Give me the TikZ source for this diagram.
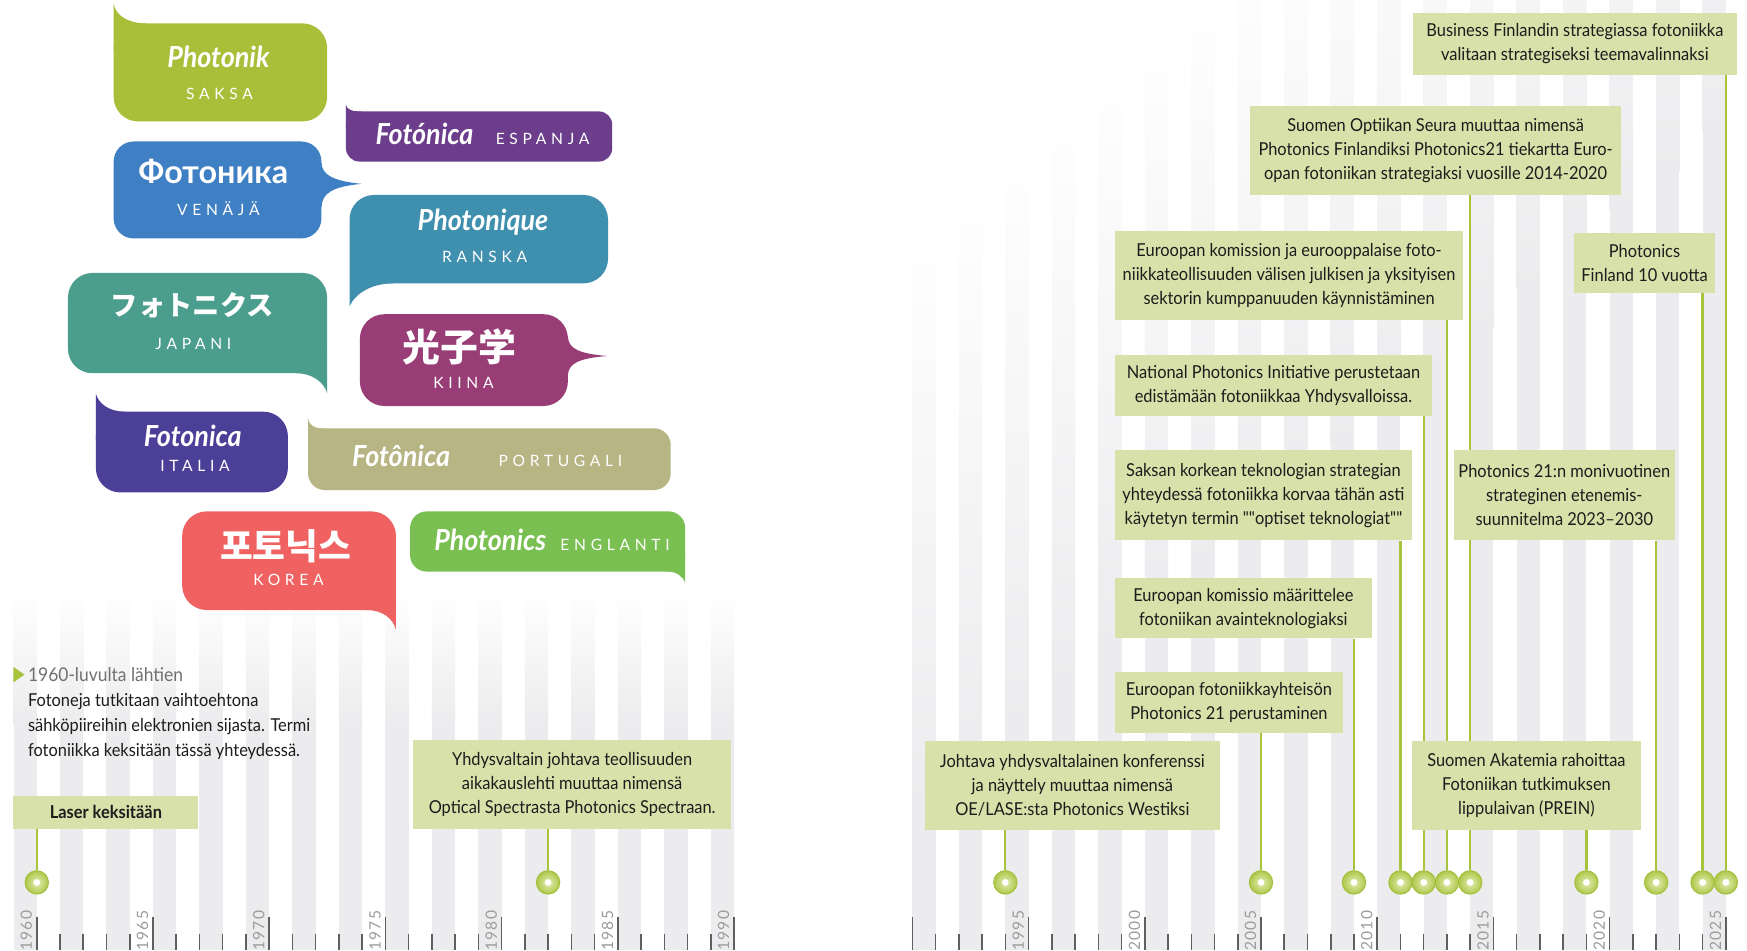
\documentclass[tikz,border=0pt]{standalone}
\usepackage{fontspec}
\setmainfont{Lato}[FakeStretch=0.92]
\newfontfamily\qfont{Lato}[FakeStretch=0.92, Ligatures=TeXOff]
\newfontfamily\titlefont{Lato}[FakeStretch=0.93]
\newfontfamily\capsfont{Lato}[LetterSpace=30]
\newfontfamily\yearfont{Lato}[LetterSpace=8]
\newfontfamily\cyrfont{Lato}
\newfontfamily\jpfont{Noto Sans CJK JP}
\newfontfamily\scfont{Noto Sans CJK SC}
\newfontfamily\krfont{Noto Sans CJK KR}
\definecolor{boxgreen}{HTML}{D8E1AA}
\definecolor{conngreen}{HTML}{A8C43C}
\definecolor{txt}{HTML}{1C1C1C}
\definecolor{stripe}{HTML}{ECECEE}
\definecolor{tickc}{HTML}{5F5F5F}
\definecolor{yearc}{HTML}{9C9C9C}
\definecolor{mkin}{HTML}{E6EEB8}
\definecolor{mkout}{HTML}{AEC749}
\definecolor{mkline}{HTML}{A3BF3E}
\definecolor{introgray}{HTML}{707070}
\definecolor{cSaksa}{HTML}{A9BF3A}
\definecolor{cEspanja}{HTML}{6B3D8B}
\definecolor{cVenaja}{HTML}{3F7FC3}
\definecolor{cRanska}{HTML}{3F8FAE}
\definecolor{cJapani}{HTML}{4B9E8D}
\definecolor{cKiina}{HTML}{983D75}
\definecolor{cItalia}{HTML}{4C3F98}
\definecolor{cPortugali}{HTML}{B8B584}
\definecolor{cKorea}{HTML}{F06161}
\definecolor{cEnglanti}{HTML}{79BF51}
\pgfdeclarelayer{bg}
\pgfdeclarelayer{conn}
\pgfsetlayers{bg,conn,main}
\def\ry#1{1549-(2025-#1)*20.86}
\def\ly#1{33+(#1-1960)*20.86}
\begin{document}
\begin{tikzpicture}[x=1pt,y=-1pt,
  evbox/.style={fill=boxgreen, text=txt, align=center, inner sep=2pt,
    font=\fontsize{16}{21.5}\selectfont},
  marker/.style={circle, minimum size=21pt, inner sep=0pt, draw=mkline, line width=0.9pt,
    inner color=mkin, outer color=mkout,
    path picture={\fill[white] (path picture bounding box.center) circle (3pt);}},
  conn/.style={draw=conngreen, line width=2pt},
  tickline/.style={draw=tickc, line width=1.4pt},
  yearlbl/.style={text=yearc, inner sep=0pt, font=\yearfont\fontsize{14}{15}\selectfont},
  ttl/.style={text=white, inner sep=0pt, anchor=base, font=\titlefont\fontsize{26}{28}\selectfont\bfseries\itshape},
  sub/.style={text=white, inner sep=0pt, anchor=base, font=\capsfont\fontsize{14}{16}\selectfont},
  cjk/.style={text=white, inner sep=0pt, anchor=center},
]
\useasboundingbox (0,0) rectangle (1568,853);
\begin{pgfonlayer}{bg}
\clip (0,0) rectangle (1568,853);
\fill[white] (0,0) rectangle (1568,853);
% left stripes
\foreach \yr in {1959,1961,...,1989}{
  \pgfmathsetmacro\xa{\ly{\yr}}
  \pgfmathsetmacro\xb{\xa+20.86}
  \shade[top color=white, bottom color=stripe] (\xa,530) rectangle (\xb,650);
  \fill[stripe] (\xa,649.5) rectangle (\xb,853);
}
% right stripes
\foreach \yr in {1990,1992,...,2024}{
  \pgfmathsetmacro\xa{\ry{\yr}}
  \pgfmathsetmacro\xb{\xa+20.86}
  \pgfmathsetmacro\fr{(\xa-819)/730}
  \pgfmathsetmacro\yf{720-620*\fr}
  \pgfmathsetmacro\yt{\yf-520}
  \shade[top color=white, bottom color=stripe] (\xa,\yt) rectangle (\xb,\yf);
  \fill[stripe] (\xa,\yf-0.5) rectangle (\xb,853);
}
% ticks left
\foreach \yr in {1960,...,1990}{
  \pgfmathsetmacro\xa{\ly{\yr}}
  \draw[tickline] (\xa,838) -- (\xa,853);
}
\foreach \yr in {1960,1965,...,1990}{
  \pgfmathsetmacro\xa{\ly{\yr}}
  \draw[tickline] (\xa,823) -- (\xa,853);
  \node[yearlbl, rotate=90, anchor=south west] (yl\yr) at (\xa-4,853.5) {\yr};
}
% ticks right
\foreach \yr in {1990,...,2025}{
  \pgfmathsetmacro\xa{\ry{\yr}}
  \draw[tickline] (\xa,838) -- (\xa,853);
}
\draw[tickline] ({\ry{1990}},823) -- ({\ry{1990}},853);
\foreach \yr in {1995,2000,...,2025}{
  \pgfmathsetmacro\xa{\ry{\yr}}
  \draw[tickline] (\xa,823) -- (\xa,853);
  \node[yearlbl, rotate=90, anchor=south west] (yr\yr) at (\xa-4,853.5) {\yr};
}
\end{pgfonlayer}

% ---------- speech bubbles (body + tail) ----------
\fill[cSaksa, rounded corners=22] (102,21) rectangle (293.6,109);
\fill[cSaksa] (102,3.5) -- (102,45) -- (131,45) -- (131,21) .. controls (115,21) and (104,14) .. (102,3.5) -- cycle;

\fill[cEspanja, rounded corners=12] (310.5,100) rectangle (549.5,145);
\fill[cEspanja] (310.5,94) -- (310.5,115) -- (324,115) -- (324,100) -- (322,100) .. controls (316,100) and (311,98) .. (310.5,94) -- cycle;

\fill[cVenaja, rounded corners=18] (102,127) rectangle (288.5,214);
\fill[cVenaja] (275,146) -- (288.5,146) .. controls (289,157) and (299,162.5) .. (324.5,165) .. controls (299,167.5) and (289,173) .. (288.5,186) -- (275,186) -- cycle;

\fill[cRanska, rounded corners=22] (313.7,175) rectangle (545.7,254.3);
\fill[cRanska] (313.7,275) -- (313.7,235) -- (353,235) -- (353,254.3) .. controls (334,254.3) and (319,263) .. (313.7,275) -- cycle;

\fill[cJapani, rounded corners=22] (61,245) rectangle (293.6,335);
\fill[cJapani] (293.6,353) -- (293.6,315) -- (266,315) -- (266,335) .. controls (280,335) and (291,343) .. (293.6,353) -- cycle;

\fill[cKiina, rounded corners=22] (323,282) rectangle (509.7,364.4);
\fill[cKiina] (500,302) -- (509.7,302) .. controls (510,313) and (520,317.5) .. (545,319.5) .. controls (520,321.5) and (510,326) .. (509.7,337) -- (500,337) -- cycle;

\fill[cItalia, rounded corners=22] (86,369.5) rectangle (258.4,442);
\fill[cItalia] (86,353) -- (86,395) -- (112,395) -- (112,369.5) .. controls (98,369.5) and (88,362) .. (86,353) -- cycle;

\fill[cPortugali, rounded corners=15] (276.5,384.4) rectangle (602,439.8);
\fill[cPortugali] (276.5,375.5) -- (276.5,402) -- (292,402) -- (292,384.4) -- (288,384.4) .. controls (282,384.4) and (277,381) .. (276.5,375.5) -- cycle;

\fill[cKorea, rounded corners=22] (163.5,459) rectangle (355.4,547.5);
\fill[cKorea] (355.4,565.4) -- (355.4,525) -- (329,525) -- (329,547.5) .. controls (343,547.5) and (353,555) .. (355.4,565.4) -- cycle;

\fill[cEnglanti, rounded corners=15] (368,459) rectangle (615,513);
\fill[cEnglanti] (615,523.5) -- (615,495) -- (599,495) -- (599,513) .. controls (607,513) and (613,517) .. (615,523.5) -- cycle;

\node[ttl] (tSaksa) at (196,61) {Photonik};
\node[sub] (sSaksa) at (197,89) {SAKSA};
\node[ttl] (tEspanja) at (381,129.3) {Fotónica};
\node[sub] (sEspanja) at (487,129.3) {ESPANJA};
\node[text=white, inner sep=0pt, anchor=base, font=\cyrfont\fontsize{29}{30}\selectfont\bfseries] (tVenaja) at (191.5,164.5) {Фотоника};
\node[sub] (sVenaja) at (196,193) {VENÄJÄ};
\node[ttl] (tRanska) at (433.5,206.5) {Photonique};
\node[sub] (sRanska) at (435,235.5) {RANSKA};
\node[cjk, font=\jpfont\fontsize{24.5}{26}\selectfont\bfseries] (tJapani) at (172.6,274) {フォトニクス};
\node[sub] (sJapani) at (173.5,314) {JAPANI};
\node[cjk, font=\scfont\fontsize{34}{36}\selectfont\bfseries] (tKiina) at (412.7,311) {光子学};
\node[sub] (sKiina) at (416,348.5) {KIINA};
\node[ttl] (tItalia) at (173,401) {Fotonica};
\node[sub] (sItalia) at (175,423) {ITALIA};
\node[ttl] (tPortugali) at (360,419) {Fotônica};
\node[sub] (sPortugali) at (503,418.3) {PORTUGALI};
\node[cjk, font=\krfont\fontsize{32}{34}\selectfont\bfseries] (tKorea) at (256.4,490.5) {포토닉스};
\node[sub] (sKorea) at (259,525.7) {KOREA};
\node[ttl] (tEnglanti) at (440,493.7) {Photonics};
\node[sub] (sEnglanti) at (552,493.7) {ENGLANTI};

% ---------- intro text ----------
\fill[conngreen] (12,598.5) -- (22,605.5) -- (12,612.5) -- cycle;
\node[anchor=west, inner sep=0pt, text=introgray, font=\fontsize{17}{18}\selectfont] (since) at (25,605.5) {1960-luvulta lähtien};
\node[anchor=north west, align=left, inner sep=0pt, text=txt, font=\fontsize{16}{22.5}\selectfont] (intro) at (25,622) {Fotoneja tutkitaan vaihtoehtona\\sähköpiireihin elektronien sijasta. Termi\\fotoniikka keksitään tässä yhteydessä.};

% ---------- event boxes ----------
\node[evbox, minimum width=166, minimum height=30, font=\fontsize{16}{21.5}\selectfont\bfseries] (l1) at (95,729) {Laser keksitään};
\node[evbox, minimum width=285, minimum height=80] (l2) at (513.5,704) {Yhdysvaltain johtava teollisuuden\\aikakauslehti muuttaa nimensä\\Optical Spectrasta Photonics Spectraan.};

\node[evbox, minimum width=291, minimum height=55] (b1) at (1413.5,39.5) {Business Finlandin strategiassa fotoniikka\\valitaan strategiseksi teemavalinnaksi};
\node[evbox, minimum width=333, minimum height=80] (b2) at (1288.5,135) {Suomen Optiikan Seura muuttaa nimensä\\Photonics Finlandiksi Photonics21 tiekartta Euro-\\opan fotoniikan strategiaksi vuosille 2014-2020};
\node[evbox, minimum width=312, minimum height=80] (b3) at (1157,247) {Euroopan komission ja eurooppalaise foto-\\niikkateollisuuden välisen julkisen ja yksityisen\\sektorin kumppanuuden käynnistäminen};
\node[evbox, minimum width=126, minimum height=54] (b4) at (1476,236) {Photonics\\Finland 10 vuotta};
\node[evbox, minimum width=284, minimum height=54] (b5) at (1143,346) {National Photonics Initiative perustetaan\\edistämään fotoniikkaa Yhdysvalloissa.};
\node[evbox, minimum width=266, minimum height=81] (b6) at (1134,444.5) {Saksan korkean teknologian strategian\\yhteydessä fotoniikka korvaa tähän asti\\käytetyn termin {\qfont""}optiset teknologiat{\qfont""}};
\node[evbox, minimum width=198, minimum height=81] (b7) at (1404,444.5) {Photonics 21:n monivuotinen\\strateginen etenemis-\\suunnitelma 2023–2030};
\node[evbox, minimum width=230, minimum height=54] (b8) at (1116,546) {Euroopan komissio määrittelee\\fotoniikan avainteknologiaksi};
\node[evbox, minimum width=204, minimum height=55] (b9) at (1103,630.5) {Euroopan fotoniikkayhteisön\\Photonics 21 perustaminen};
\node[evbox, minimum width=265, minimum height=80] (b10) at (962.5,705) {Johtava yhdysvaltalainen konferenssi\\ja näyttely muuttaa nimensä\\OE/LASE:sta Photonics Westiksi};
\node[evbox, minimum width=206, minimum height=80] (b11) at (1370,705) {Suomen Akatemia rahoittaa\\Fotoniikan tutkimuksen\\lippulaivan (PREIN)};

% ---------- markers ----------
\node[marker] (m1960) at ({\ly{1960}},792) {};
\node[marker] (m1982) at ({\ly{1982}},792) {};
\foreach \yr in {1994,2005,2009,2011,2012,2013,2014,2019,2022,2024,2025}{
  \node[marker] (m\yr) at ({\ry{\yr}},792) {};
}

% ---------- connectors ----------
\begin{pgfonlayer}{conn}
\draw[conn] (m1960 |- l1.south) -- (m1960);
\draw[conn] (m1982 |- l2.south) -- (m1982);
\draw[conn] (m2025 |- b1.south) -- (m2025);
\draw[conn] (m2014 |- b2.south) -- (m2014);
\draw[conn] (m2013 |- b3.south) -- (m2013);
\draw[conn] (m2024 |- b4.south) -- (m2024);
\draw[conn] (m2012 |- b5.south) -- (m2012);
\draw[conn] (m2011 |- b6.south) -- (m2011);
\draw[conn] (m2022 |- b7.south) -- (m2022);
\draw[conn] (m2009 |- b8.south) -- (m2009);
\draw[conn] (m2005 |- b9.south) -- (m2005);
\draw[conn] (m1994 |- b10.south) -- (m1994);
\draw[conn] (m2019 |- b11.south) -- (m2019);
\end{pgfonlayer}
\end{tikzpicture}
\end{document}
